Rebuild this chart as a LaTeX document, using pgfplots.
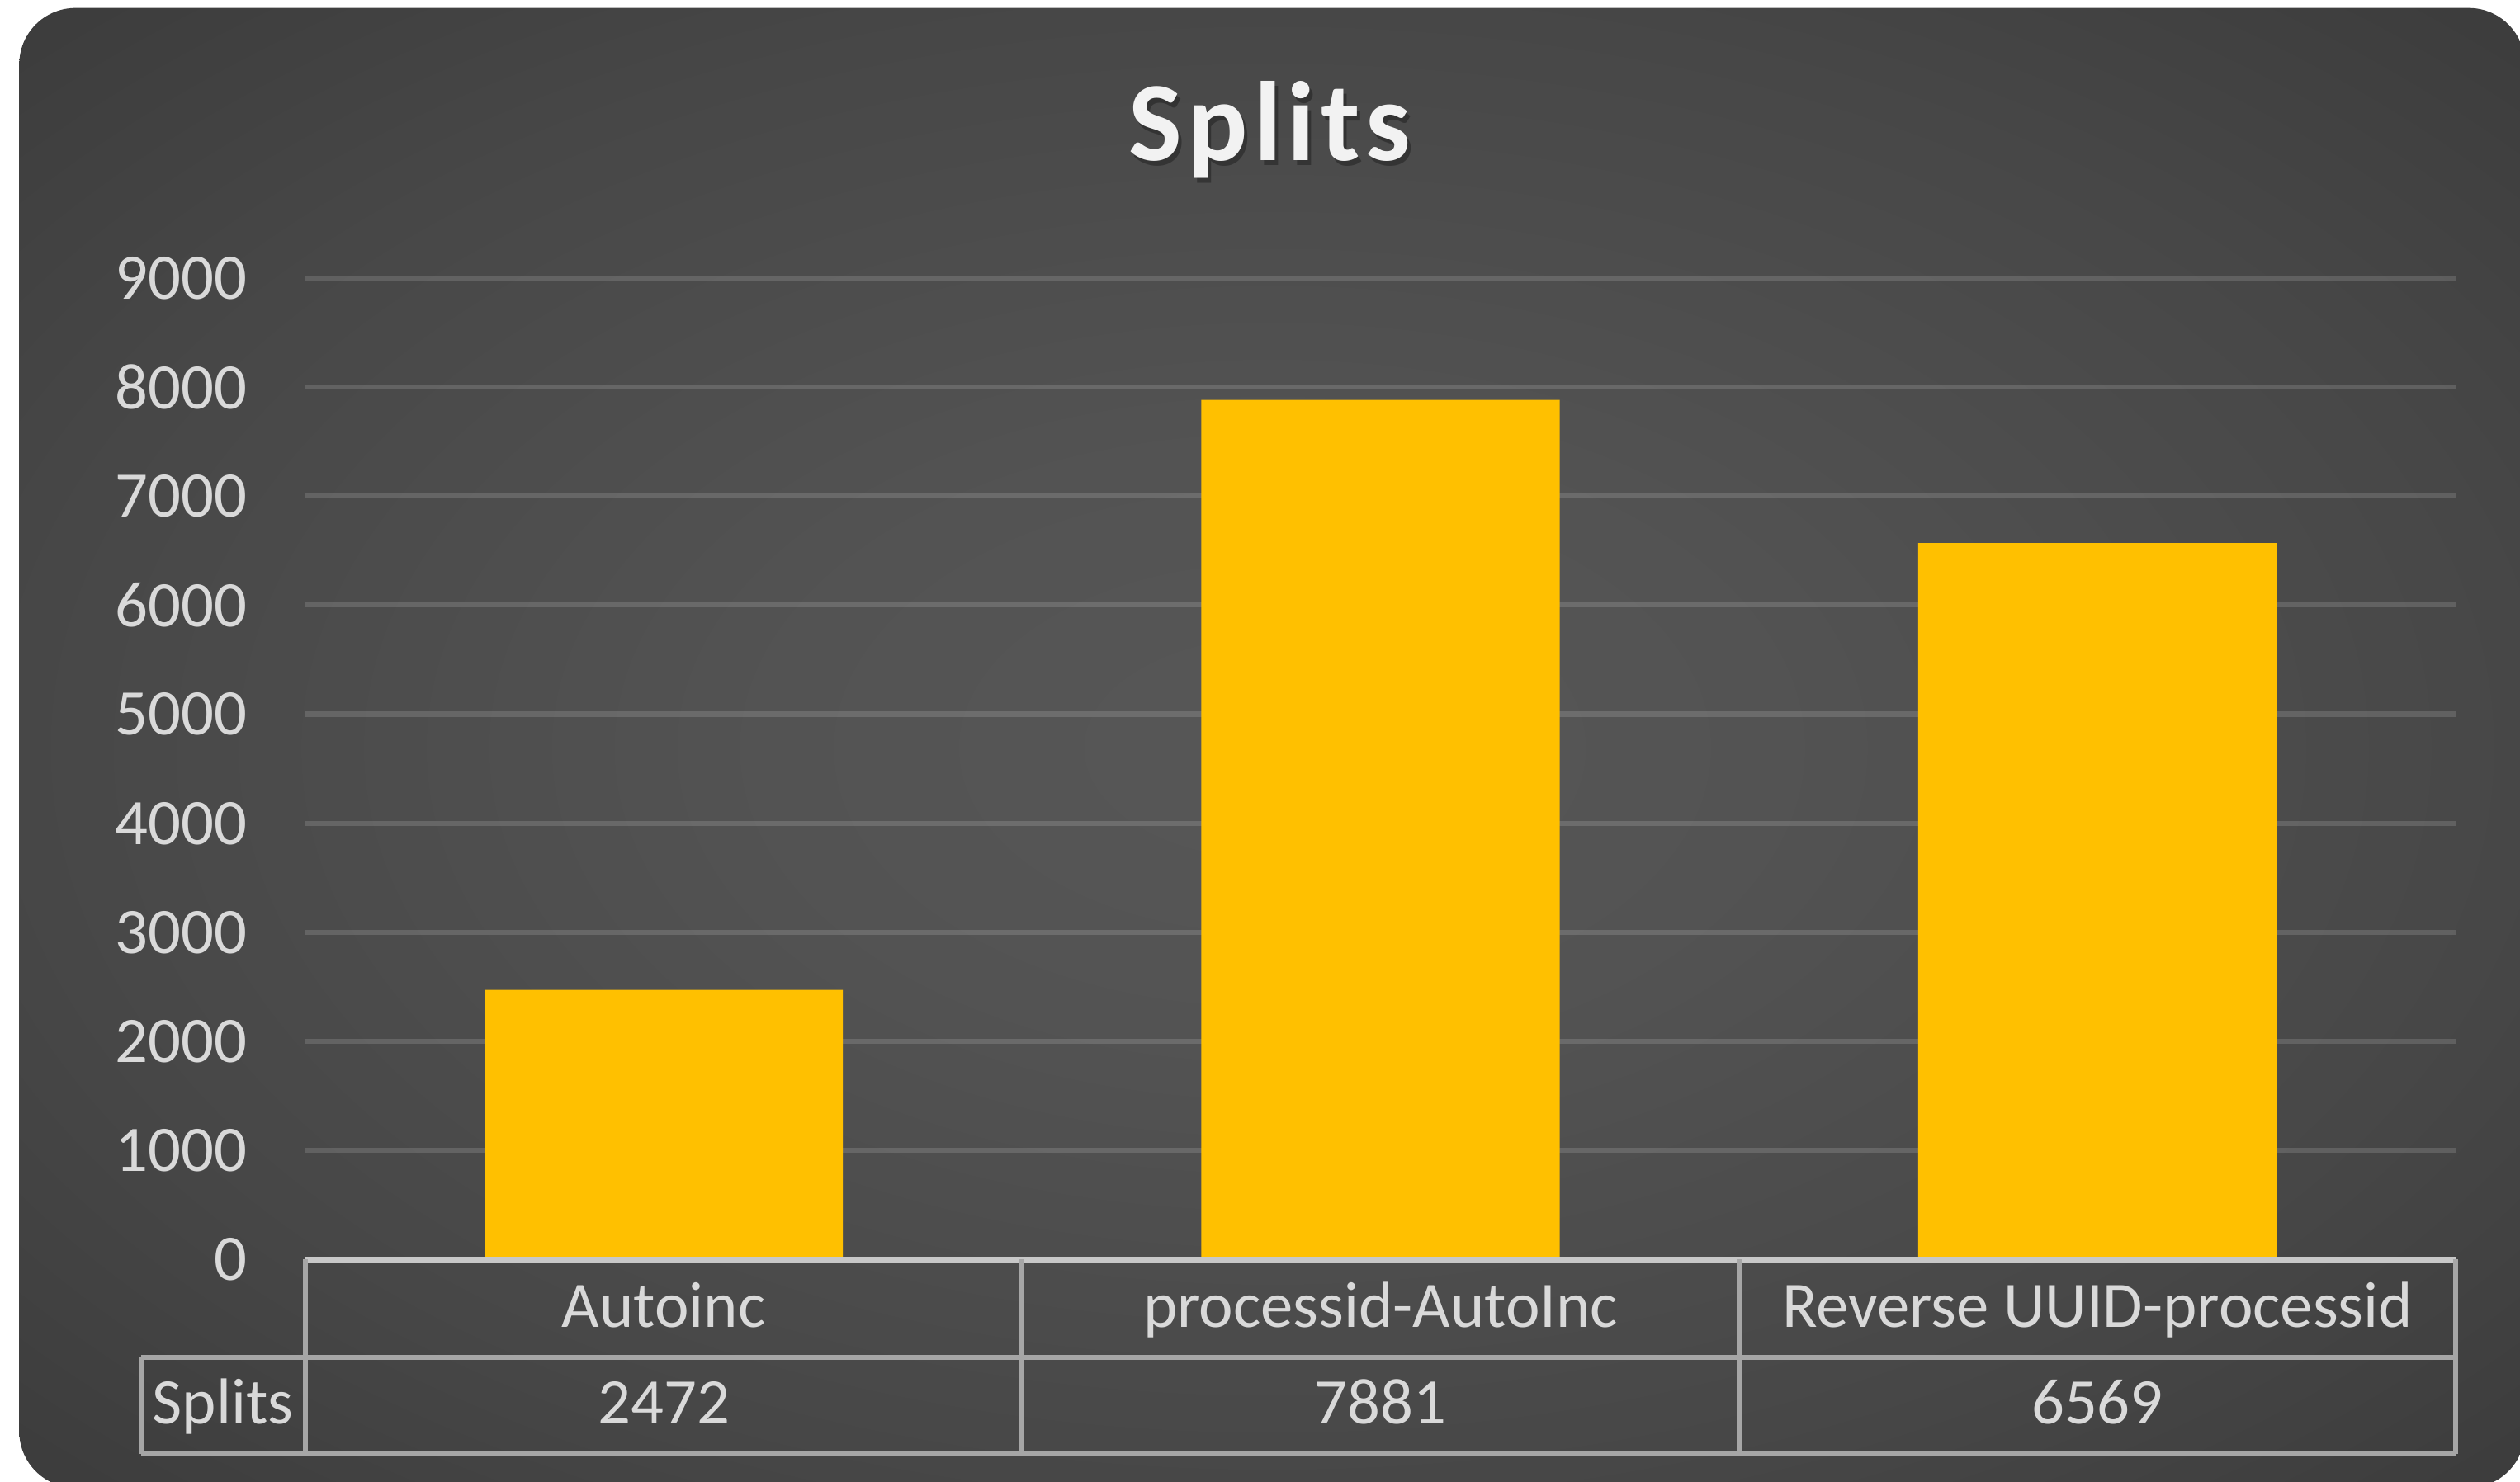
\documentclass[border=0pt]{standalone}
\usepackage{fontspec}
\setmainfont{Carlito}
\newfontfamily\titlefont[LetterSpace=5]{Carlito}
\usepackage{pgfplots}
\pgfplotsset{compat=1.18}
\definecolor{barc}{HTML}{FFC000}
\definecolor{txt}{HTML}{D9D9D9}
\definecolor{tline}{HTML}{A6A6A6}
\definecolor{tlinetop}{HTML}{C8C8C8}
\definecolor{bg0}{HTML}{575757}
\definecolor{bg1}{HTML}{535353}
\definecolor{bg2}{HTML}{474747}
\definecolor{bg3}{HTML}{393939}
\definecolor{bg4}{HTML}{2D2D2D}
\pgfdeclareradialshading{bgshade}{\pgfpoint{0bp}{0bp}}{color(0bp)=(bg0); color(10bp)=(bg1); color(25bp)=(bg2); color(38bp)=(bg3); color(50bp)=(bg4)}
\begin{document}
\begin{tikzpicture}
\shade[rounded corners=0.35cm, shading=bgshade] (0.12,-0.04) rectangle (15.71,9.17);
\node[text=black, opacity=0.3, font=\titlefont\bfseries\fontsize{20}{24}\selectfont] at (7.92,8.38) {Splits};
\node[text=white!95!black, font=\titlefont\bfseries\fontsize{20}{24}\selectfont] at (7.90,8.41) {Splits};
\begin{axis}[
  at={(1.90cm,1.38cm)}, anchor=south west,
  scale only axis, width=13.38cm, height=6.11cm,
  xmin=0, xmax=3, ymin=0, ymax=9000,
  axis line style={draw=none},
  ytick={0,1000,2000,3000,4000,5000,6000,7000,8000,9000},
  xtick={0.5,1.5,2.5},
  xticklabels={Autoinc, processid-AutoInc, Reverse UUID-processid},
  major tick length=0pt,
  ymajorgrids,
  grid style={white, opacity=0.14, line width=0.9pt},
  /pgf/number format/assume math mode=true,
  /pgf/number format/1000 sep={},
  yticklabel style={text=txt, font=\fontsize{11.5}{13}\selectfont, anchor=east, xshift=-0.24cm},
  xticklabel style={text=txt, font=\fontsize{11.5}{13}\selectfont, anchor=base, yshift=-0.42cm},
  clip=false,
]
\addplot[ybar, bar width=0.5, fill=barc, draw=none] coordinates {(0.5,2472) (1.5,7881) (2.5,6569)};
% data table
\draw[tlinetop, line width=1.1pt] (axis cs:0,0) -- (axis cs:3,0);
\draw[tline, line width=0.9pt] ([yshift=-0.61cm]axis cs:-0.229,0) -- ([yshift=-0.61cm]axis cs:3,0);
\draw[tline, line width=0.9pt] ([yshift=-1.21cm]axis cs:-0.229,0) -- ([yshift=-1.21cm]axis cs:3,0);
\draw[tline, line width=0.9pt] ([yshift=-0.61cm]axis cs:-0.229,0) -- ([yshift=-1.21cm]axis cs:-0.229,0);
\draw[tline, line width=0.9pt] (axis cs:0,0) -- ([yshift=-1.21cm]axis cs:0,0);
\draw[tline, line width=0.9pt] (axis cs:1,0) -- ([yshift=-1.21cm]axis cs:1,0);
\draw[tline, line width=0.9pt] (axis cs:2,0) -- ([yshift=-1.21cm]axis cs:2,0);
\draw[tline, line width=0.9pt] (axis cs:3,0) -- ([yshift=-1.21cm]axis cs:3,0);
\node[text=txt, anchor=base, font=\fontsize{11.5}{13}\selectfont] at ([yshift=-1.02cm]axis cs:-0.115,0) {Splits};
\node[text=txt, anchor=base, font=\fontsize{11.5}{13}\selectfont] at ([yshift=-1.02cm]axis cs:0.5,0) {2472};
\node[text=txt, anchor=base, font=\fontsize{11.5}{13}\selectfont] at ([yshift=-1.02cm]axis cs:1.5,0) {7881};
\node[text=txt, anchor=base, font=\fontsize{11.5}{13}\selectfont] at ([yshift=-1.02cm]axis cs:2.5,0) {6569};
\end{axis}
\pgfresetboundingbox
\path[use as bounding box] (0,0) rectangle (15.68,9.22);
\end{tikzpicture}
\end{document}
